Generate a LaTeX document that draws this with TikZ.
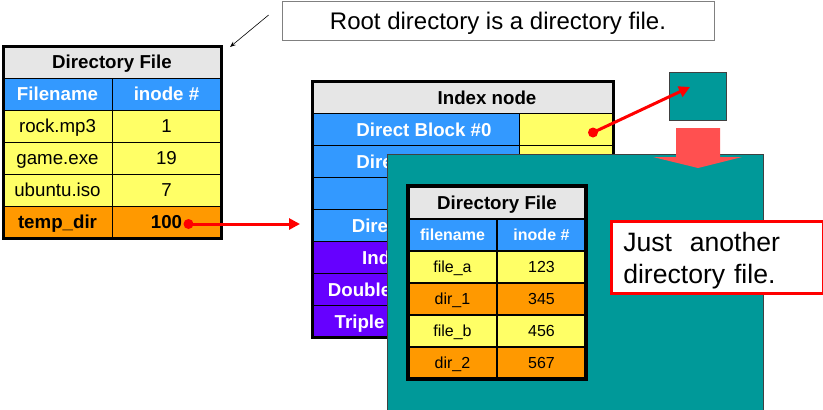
\documentclass[tikz,border=0pt]{standalone}
\usepackage{fontspec}
\setmainfont{Liberation Sans}
\usepackage{xcolor}
\usetikzlibrary{positioning, arrows.meta}

\definecolor{titlegray}{HTML}{E6E6E6}
\definecolor{headblue}{HTML}{3399FF}
\definecolor{rowyellow}{HTML}{FFFF66}
\definecolor{roworange}{HTML}{FF9900}
\definecolor{indpurple}{HTML}{6600FF}
\definecolor{blockteal}{HTML}{009999}
\definecolor{bigred}{HTML}{FF5050}

\newcommand\tabfont{\fontsize{18.7pt}{22pt}\selectfont}
\newcommand\innerfont{\fontsize{16pt}{19pt}\selectfont}

\begin{document}
\begin{tikzpicture}[x=1pt, y=-1pt, >=Stealth,
  cell/.style={draw, line width=0.8pt, inner sep=0pt, outer sep=0pt, minimum height=32pt, text height=13.4pt, text depth=0pt, font=\tabfont},
  hdr/.style={cell, fill=titlegray, font=\tabfont\bfseries},
  colh/.style={cell, fill=headblue, text=white, font=\tabfont\bfseries},
  icell/.style={cell, fill=indpurple},
  frow/.style={cell, fill=rowyellow},
  drow/.style={cell, fill=roworange},
  subh/.style={colh, line width=1.5pt, text height=11.5pt, font=\innerfont\bfseries},
  subf/.style={frow, line width=1.5pt, text height=11.5pt, font=\innerfont},
  subd/.style={drow, line width=1.5pt, text height=11.5pt, font=\innerfont},
  ilab/.style={text=white, text height=13.4pt, text depth=0pt, font=\tabfont\bfseries, xshift=8.5pt},
  tlab/.style={text=black, text height=13.4pt, text depth=0pt, font=\tabfont\bfseries, xshift=24.5pt},
  redline/.style={draw=red, line width=3pt, -{Triangle[length=11pt, width=11pt]}}]

    \useasboundingbox (0,0) rectangle (823,410);

    % Draw root directory table
    \node (root) [hdr, minimum width=218pt] at (112,62) {Directory File};
    \node (rh1) [colh, minimum width=109pt, below=0pt of root.south west, anchor=north west] {Filename};
    \node (rh2) [colh, minimum width=109pt, right=0pt of rh1] {inode \#};
    \node (ra1) [frow, minimum width=109pt, below=0pt of rh1] {rock.mp3};
    \node (rb1) [frow, minimum width=109pt, below=0pt of rh2] {1};
    \node (ra2) [frow, minimum width=109pt, below=0pt of ra1] {game.exe};
    \node (rb2) [frow, minimum width=109pt, below=0pt of rb1] {19};
    \node (ra3) [frow, minimum width=109pt, below=0pt of ra2] {ubuntu.iso};
    \node (rb3) [frow, minimum width=109pt, below=0pt of rb2] {7};
    \node (ra4) [drow, minimum width=109pt, below=0pt of ra3, font=\tabfont\bfseries] {temp\_dir};
    \node (rb4) [drow, minimum width=109pt, below=0pt of rb3, font=\tabfont\bfseries] {100};
    \draw[line width=3pt] (root.north west) rectangle (rb4.south east);

    % Draw index node table
    \node (inode) [cell, fill=titlegray, minimum width=301pt, label={[tlab]center:Index node}] at (462.5,97.5) {};
    \node (d0) [colh, minimum width=207pt, below=0pt of inode.south west, anchor=north west, label={[ilab]center:Direct Block \#0}] {};
    \node (p0) [frow, minimum width=94pt, right=0pt of d0] {};
    \node (d1) [colh, minimum width=207pt, below=0pt of d0, label={[ilab]center:Direct Block \#1}] {};
    \node (p1) [frow, minimum width=94pt, right=0pt of d1] {};
    \node (d2) [colh, minimum width=207pt, below=0pt of d1] {};
    \node (p2) [frow, minimum width=94pt, right=0pt of d2] {};
    \node (d3) [colh, minimum width=207pt, below=0pt of d2, label={[ilab]center:Direct Block \#11}] {};
    \node (p3) [frow, minimum width=94pt, right=0pt of d3] {};
    \node (i1) [icell, minimum width=207pt, below=0pt of d3, label={[ilab]center:Indirect Block}] {};
    \node (q1) [frow, minimum width=94pt, right=0pt of i1] {};
    \node (i2) [icell, minimum width=207pt, below=0pt of i1, label={[ilab]center:Double Indirect Block}] {};
    \node (q2) [frow, minimum width=94pt, right=0pt of i2] {};
    \node (i3) [icell, minimum width=207pt, below=0pt of i2, label={[ilab]center:Triple Indirect Block}] {};
    \node (q3) [frow, minimum width=94pt, right=0pt of i3] {};
    \draw[line width=3pt] (inode.north west) rectangle (q3.south east);

    % Draw blocks
    \node (blk) [draw=darkgray, fill=blockteal, minimum width=57pt, minimum height=48pt, inner sep=0pt] at (697.5,96) {};

    % Draw arrows
    \coordinate (s1) at ([shift={(22,2)}]rb4.center);
    \coordinate (e1) at ([xshift=-12pt]d3.west |- s1);
    \draw[redline] (s1) -- (e1);
    \fill[red] (s1) circle (5pt);
    \coordinate (s2) at ([shift={(27,3)}]p0.center);
    \coordinate (e2) at ([shift={(-7.5,-9)}]blk.center);
    \draw[redline] (s2) -- (e2);
    \fill[red] (s2) circle (5pt);

    % Draw the directory block
    \node (dirblk) [draw=darkgray, fill=blockteal, minimum width=376pt, minimum height=262pt, inner sep=0pt, anchor=north west] at (387,154) {};
    \fill[bigred] (676,128) -- (720,128) -- (720,157) -- (742,157) -- (698,168) -- (653,157) -- (676,157) -- cycle;

    % Draw inner directory table
    \node (sub) [hdr, line width=1.5pt, minimum width=178pt, minimum height=33pt] at (497,202.5) {Directory File};
    \node (sh1) [subh, minimum width=89pt, below=0pt of sub.south west, anchor=north west] {filename};
    \node (sh2) [subh, minimum width=89pt, right=0pt of sh1] {inode \#};
    \node (sa1) [subf, minimum width=89pt, below=0pt of sh1] {file\_a};
    \node (sb1) [subf, minimum width=89pt, below=0pt of sh2] {123};
    \node (sa2) [subd, minimum width=89pt, below=0pt of sa1] {dir\_1};
    \node (sb2) [subd, minimum width=89pt, below=0pt of sb1] {345};
    \node (sa3) [subf, minimum width=89pt, below=0pt of sa2] {file\_b};
    \node (sb3) [subf, minimum width=89pt, below=0pt of sb2] {456};
    \node (sa4) [subd, minimum width=89pt, below=0pt of sa3] {dir\_2};
    \node (sb4) [subd, minimum width=89pt, below=0pt of sb3] {567};
    \draw[line width=3.5pt] (sub.north west) rectangle (sb4.south east);

    % Draw notes
    \node (note2) [draw=red, line width=2.5pt, fill=white, minimum width=212pt, minimum height=72pt, inner xsep=11pt, text width=188pt, align=left, anchor=north west, font=\fontsize{26.6pt}{32pt}\selectfont] at (610,220) {\rule{0pt}{26pt}Just\ \ another\\directory file.};
    \node (note1) [draw=gray, line width=0.8pt, fill=white, minimum width=432pt, minimum height=39pt, text height=17.2pt, text depth=0pt, font=\fontsize{24pt}{28pt}\selectfont] at (498,21) {Root directory is a directory file.};
    \coordinate (t1) at ([shift={(-13,-6)}]note1.west);
    \coordinate (t2) at ([shift={(9,1)}]root.north east);
    \draw[->, line width=0.6pt] (t1) -- (t2);

\end{tikzpicture}
\end{document}
